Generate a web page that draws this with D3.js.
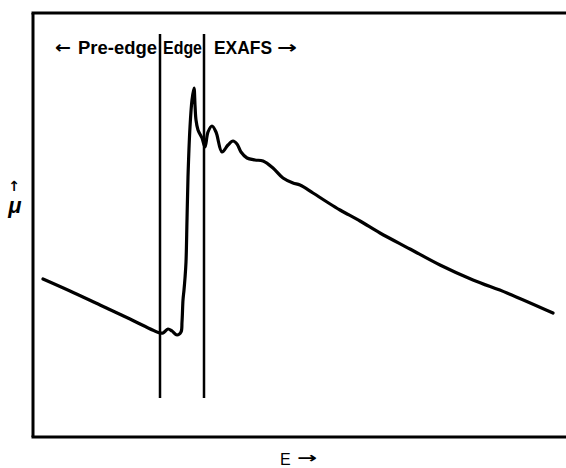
<!DOCTYPE html>
<html>
<head>
<meta charset="utf-8">
<script src="https://cdn.jsdelivr.net/npm/d3@7"></script>
<style>
  html, body { margin: 0; padding: 0; background: #fff; overflow: hidden; }
  svg { display: block; }
  text { font-family: "Liberation Sans", Arial, sans-serif; fill: #000; }
  .arrow { font-family: "DejaVu Sans", sans-serif; }
</style>
</head>
<body>
<svg id="chart" width="566" height="468"></svg>
<script>
// Absorption spectrum (arbitrary units): energy E and absorption coefficient mu
const energy = [10, 37, 67, 97, 127, 130, 135, 139, 144, 148, 149, 150, 151, 152, 153, 154, 155, 157, 159, 161, 162, 163, 165, 169, 172, 175, 179, 183, 189, 195, 200, 204, 208, 214, 222, 230, 240, 250, 260, 267, 280, 294, 307, 327, 347, 377, 407, 440, 474, 520];
const mu = [158, 146, 132, 118, 104, 104, 108, 106, 102, 105, 115, 137, 147, 159, 175, 217, 260, 310, 337, 349, 332, 317, 307, 299, 290, 305, 311, 305, 285, 292, 296, 293, 285, 279, 277, 276, 269, 259, 254, 252, 244, 235, 227, 216, 204, 188, 172, 157, 144, 124];

// Region boundaries on the energy axis
const boundaries = [127, 171];
const regionLabels = ["Pre-edge", "Edge", "EXAFS"];
const axisLabels = { x: "E", y: "\u03bc" };

const svg = d3.select("#chart");
const plotLeft = 33, plotRight = 566, plotTop = 13, plotBottom = 437;

const x = d3.scaleLinear().domain([0, 533]).range([plotLeft, plotRight]);
const y = d3.scaleLinear().domain([0, 424]).range([plotBottom, plotTop]);

// Frame: left, top and bottom edges only, running off the right side
const frame = [
  [plotLeft - 1.5, plotTop, plotRight + 5, plotTop],
  [plotLeft, plotTop, plotLeft, plotBottom],
  [plotLeft - 1.5, plotBottom, plotRight + 5, plotBottom]
];
svg.selectAll("line.frame")
  .data(frame)
  .join("line")
  .attr("class", "frame")
  .attr("x1", d => d[0]).attr("y1", d => d[1])
  .attr("x2", d => d[2]).attr("y2", d => d[3])
  .attr("stroke", "#000")
  .attr("stroke-width", 3);

// Region separators
svg.selectAll("line.sep")
  .data(boundaries)
  .join("line")
  .attr("class", "sep")
  .attr("x1", d => x(d)).attr("x2", d => x(d))
  .attr("y1", y(403)).attr("y2", y(39))
  .attr("stroke", "#000")
  .attr("stroke-width", 2.5);

// Region labels with direction arrows
const labelY = 54;
svg.append("text").attr("class", "arrow").attr("x", 55).attr("y", labelY - 1)
  .attr("font-size", 17).attr("font-weight", "bold")
  .attr("textLength", 16).attr("lengthAdjust", "spacingAndGlyphs")
  .text("\u2190");
svg.append("text").attr("x", 78).attr("y", labelY)
  .attr("font-size", 18).attr("font-weight", "bold")
  .attr("textLength", 79).attr("lengthAdjust", "spacingAndGlyphs")
  .text(regionLabels[0]);
svg.append("text").attr("x", 163).attr("y", labelY)
  .attr("font-size", 18).attr("font-weight", "bold")
  .attr("textLength", 39).attr("lengthAdjust", "spacingAndGlyphs")
  .text(regionLabels[1]);
svg.append("text").attr("x", 214).attr("y", labelY)
  .attr("font-size", 18).attr("font-weight", "bold")
  .attr("textLength", 58).attr("lengthAdjust", "spacingAndGlyphs")
  .text(regionLabels[2]);
svg.append("text").attr("class", "arrow").attr("x", 277).attr("y", labelY - 1)
  .attr("font-size", 17).attr("font-weight", "bold")
  .attr("textLength", 20).attr("lengthAdjust", "spacingAndGlyphs")
  .text("\u2192");

// Spectrum curve
const pts = energy.map((e, i) => [e, mu[i]]);
const line = d3.line()
  .x(d => x(d[0]))
  .y(d => y(d[1]))
  .curve(d3.curveCatmullRom.alpha(0.5));
svg.append("path")
  .datum(pts)
  .attr("d", line)
  .attr("fill", "none")
  .attr("stroke", "#000")
  .attr("stroke-width", 3.2)
  .attr("stroke-linejoin", "round")
  .attr("stroke-linecap", "round");

// Axis labels
svg.append("text").attr("class", "arrow").attr("x", 14).attr("y", 191)
  .attr("font-size", 14).attr("text-anchor", "middle")
  .attr("font-weight", "bold")
  .text("\u2191");
svg.append("text").attr("x", 15).attr("y", 213)
  .attr("font-size", 22).attr("font-style", "italic").attr("text-anchor", "middle")
  .attr("font-weight", "bold")
  .text(axisLabels.y);
svg.append("text").attr("x", 280).attr("y", 465)
  .attr("font-size", 16)
  .text(axisLabels.x);
svg.append("text").attr("class", "arrow").attr("x", 297).attr("y", 463)
  .attr("font-size", 15).attr("font-weight", "bold")
  .attr("textLength", 20).attr("lengthAdjust", "spacingAndGlyphs")
  .text("\u2192");
</script>
</body>
</html>
